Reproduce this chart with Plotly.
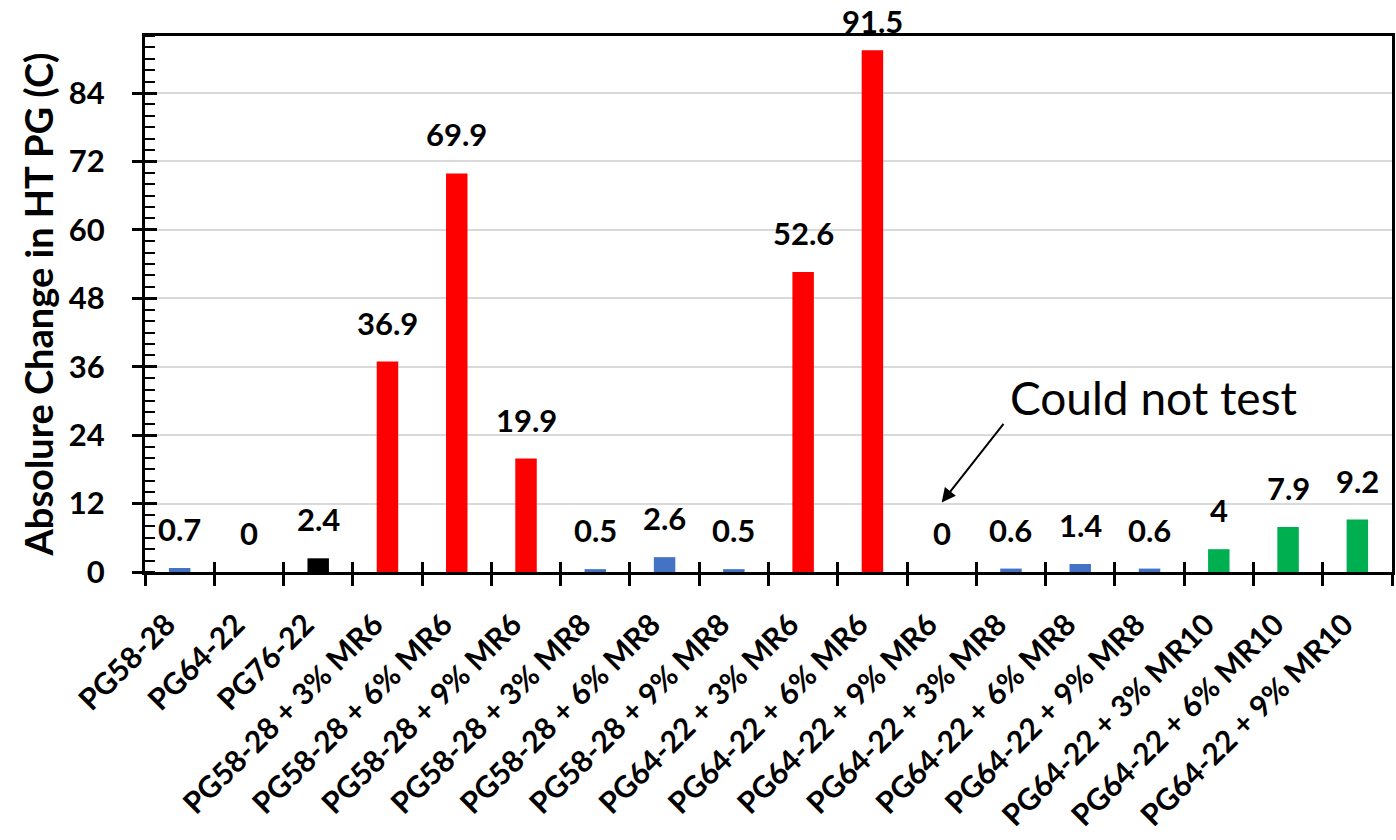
import plotly.graph_objects as go

categories = [
    "PG58-28", "PG64-22", "PG76-22",
    "PG58-28 + 3% MR6", "PG58-28 + 6% MR6", "PG58-28 + 9% MR6",
    "PG58-28 + 3% MR8", "PG58-28 + 6% MR8", "PG58-28 + 9% MR8",
    "PG64-22 + 3% MR6", "PG64-22 + 6% MR6", "PG64-22 + 9% MR6",
    "PG64-22 + 3% MR8", "PG64-22 + 6% MR8", "PG64-22 + 9% MR8",
    "PG64-22 + 3% MR10", "PG64-22 + 6% MR10", "PG64-22 + 9% MR10",
]
values = [0.7, 0, 2.4, 36.9, 69.9, 19.9, 0.5, 2.6, 0.5, 52.6, 91.5, 0, 0.6, 1.4, 0.6, 4, 7.9, 9.2]
value_labels = ["0.7", "0", "2.4", "36.9", "69.9", "19.9", "0.5", "2.6", "0.5",
                "52.6", "91.5", "0", "0.6", "1.4", "0.6", "4", "7.9", "9.2"]
groups = ["base", "base", "PG76", "MR6", "MR6", "MR6", "MR8", "MR8", "MR8",
          "MR6", "MR6", "MR6", "MR8", "MR8", "MR8", "MR10", "MR10", "MR10"]
y_ticks = [0, 12, 24, 36, 48, 60, 72, 84]
y_title = "Absolure Change in HT PG (C)"
note_text = "Could not test"
note_category = "PG64-22 + 9% MR6"

group_colors = {"base": "#4472C4", "PG76": "#000000", "MR6": "#FF0000",
                "MR8": "#4472C4", "MR10": "#00B050"}
bar_colors = [group_colors[g] for g in groups]

FONT = "Lato"
fig = go.Figure()
fig.add_trace(go.Bar(x=categories, y=values, marker=dict(color=bar_colors, line=dict(width=0)),
                     hoverinfo="x+y", showlegend=False))
# invisible copy for the overlay axes (inner half of crossing ticks)
fig.add_trace(go.Bar(x=categories, y=values, xaxis="x2", yaxis="y2",
                     marker=dict(opacity=0), hoverinfo="skip", showlegend=False))

# data labels
label_shift = {"PG64-22 + 6% MR6": 29}
for c, v, t in zip(categories, values, value_labels):
    fig.add_annotation(x=c, y=v, text=t, showarrow=False, yanchor="middle",
                       yshift=label_shift.get(c, 39),
                       font=dict(family=FONT, size=31, color="black", weight="bold"))

# note with arrow
fig.add_annotation(x=note_category, y=12.2, text="", showarrow=True, arrowhead=2,
                   arrowsize=1.4, arrowwidth=2, arrowcolor="black", ax=63, ay=-80)
fig.add_annotation(x=14.06, y=30.6, text=note_text, showarrow=False,
                   xanchor="center", yanchor="middle",
                   font=dict(family=FONT, size=46, color="black"))

fig.update_layout(
    width=1396, height=840,
    margin=dict(l=145, r=4, t=36, b=268),
    plot_bgcolor="white", paper_bgcolor="white",
    bargap=0.69, showlegend=False,
    font=dict(family=FONT, color="black"),
    xaxis=dict(type="category", categoryorder="array", categoryarray=categories,
               range=[-0.5, len(categories) - 0.5], tickson="boundaries",
               ticks="outside", ticklen=11, tickwidth=2.5, tickcolor="black",
               showline=True, linecolor="black", linewidth=3, mirror=True,
               tickangle=-45, showgrid=False, zeroline=False, automargin=False,
               tickfont=dict(family=FONT, size=30, color="black", weight="bold"),
               ticklabelstandoff=20, ticklabelshift=-13),
    yaxis=dict(range=[0, 94], tickvals=y_ticks, ticks="outside", ticklen=10,
               tickwidth=2.5, tickcolor="black", showline=True, linecolor="black",
               linewidth=3, mirror=True, showgrid=True, gridcolor="#D9D9D9",
               gridwidth=1.5, zeroline=False, automargin=False,
               minor=dict(dtick=2, ticks="inside", ticklen=10, tickwidth=2,
                          tickcolor="black", showgrid=False),
               tickfont=dict(family=FONT, size=31, color="black", weight="bold"),
               ticklabelstandoff=21,
               title=dict(text=y_title, standoff=4,
                          font=dict(family=FONT, size=38, color="black", weight="bold"))),
    xaxis2=dict(type="category", overlaying="x", matches="x", tickson="boundaries",
                ticks="inside", ticklen=10, tickwidth=2.5, tickcolor="black",
                showticklabels=False, showgrid=False, showline=False, zeroline=False),
    yaxis2=dict(overlaying="y", matches="y", tickvals=y_ticks, ticks="inside", ticklen=12,
                tickwidth=2.5, tickcolor="black", showticklabels=False,
                showgrid=False, showline=False, zeroline=False),
)

fig.write_html("out.html", config={"displayModeBar": False},
               post_script="document.body.style.margin='0';")
